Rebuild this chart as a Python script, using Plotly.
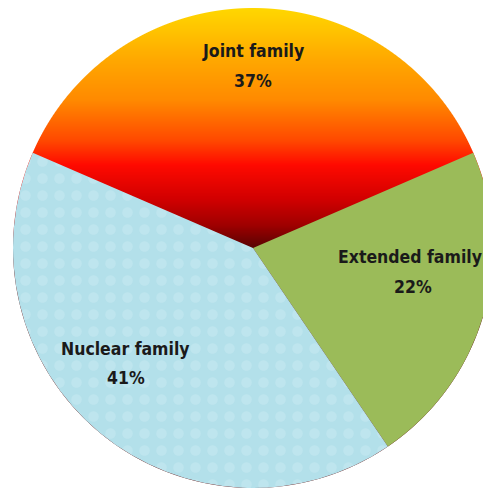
import base64
import struct
import zlib

import numpy as np
import plotly.graph_objects as go

# Family structure shares (percent)
labels = ["Joint family", "Extended family", "Nuclear family"]
shares = [37, 22, 41]
slice_colors = ["rgba(0,0,0,0)", "#9bbb59", "#b3e0ea"]

# Fire gradient used for the "Joint family" slice (fraction of radius from top -> colour)
fire_stops = [0.0, 0.217, 0.383, 0.55, 0.654, 0.8, 0.904, 1.0]
fire_colors = ["#ffd800", "#ffa800", "#ff8a00", "#ff4a00", "#ff0a00", "#d00000", "#a00000", "#580404"]

W, H = 506, 490
R = 240          # pie radius in px
CX, CY = 253, 248  # pie centre in px (from top-left)


def hex_rgb(h):
    h = h.lstrip("#")
    return [int(h[i:i + 2], 16) for i in (0, 2, 4)]


def png_uri(rgba):
    h, w, _ = rgba.shape
    raw = b"".join(b"\x00" + rgba[y].tobytes() for y in range(h))

    def chunk(tag, data):
        body = tag + data
        return struct.pack(">I", len(data)) + body + struct.pack(">I", zlib.crc32(body) & 0xFFFFFFFF)

    png = (b"\x89PNG\r\n\x1a\n"
           + chunk(b"IHDR", struct.pack(">IIBBBBB", w, h, 8, 6, 0, 0, 0))
           + chunk(b"IDAT", zlib.compress(raw, 9))
           + chunk(b"IEND", b""))
    return "data:image/png;base64," + base64.b64encode(png).decode()


# Disc-shaped gradient texture that shows through the transparent slice
n = 2 * R
yy, xx = np.mgrid[0:n, 0:n] + 0.5
t = np.clip(yy / R, 0, 1)
rgb = np.array([hex_rgb(c) for c in fire_colors], dtype=float)
img = np.zeros((n, n, 4), dtype=np.uint8)
for k in range(3):
    img[..., k] = np.interp(t, fire_stops, rgb[:, k]).astype(np.uint8)
dist = np.hypot(xx - R, yy - R)
img[..., 3] = (np.clip(R - dist + 0.5, 0, 1) * 255).astype(np.uint8)
fire_uri = png_uri(img)

fig = go.Figure(
    go.Pie(
        labels=labels,
        values=shares,
        sort=False,
        direction="clockwise",
        rotation=-shares[0] * 3.6 / 2,
        textinfo="none",
        hoverinfo="label+percent",
        domain=dict(x=[0, 1], y=[(H - CY - R) / H, (H - CY + R) / H]),
        marker=dict(
            colors=slice_colors,
            line=dict(width=0),
            pattern=dict(
                shape=["", "", "."],
                fillmode="overlay",
                fgcolor="rgba(225,245,250,0.45)",
                size=17,
                solidity=0.3,
            ),
        ),
        showlegend=False,
    )
)

fig.add_layout_image(
    source=fire_uri,
    xref="paper", yref="paper",
    x=(CX - R) / W, y=(H - CY + R) / H,
    sizex=2 * R / W, sizey=2 * R / H,
    xanchor="left", yanchor="top",
    sizing="stretch", layer="below",
)

# Slice labels: name line and percentage line
label_font = dict(
    family="DejaVu Sans Condensed, Liberation Sans Narrow, Roboto Condensed, Liberation Sans, sans-serif",
    size=17.5, color="#1a1a1a", weight="bold",
)
name_pos = [(253, 51), (410, 257), (125, 349)]
pct_pos = [(253, 81), (413, 287), (126, 378)]
for (nx, ny), (qx, qy), name, val in zip(name_pos, pct_pos, labels, shares):
    for (px, py), txt in (((nx, ny), name), ((qx, qy), f"{val}%")):
        fig.add_annotation(
            x=px / W, y=1 - py / H, xref="paper", yref="paper",
            xanchor="center", yanchor="middle",
            text=txt, showarrow=False, font=label_font,
        )

fig.update_layout(
    width=W, height=H, autosize=False,
    margin=dict(l=0, r=0, t=0, b=0),
    paper_bgcolor="white",
    plot_bgcolor="white",
)

fig.write_html(
    "out.html",
    post_script="document.documentElement.style.overflow='hidden';document.body.style.overflow='hidden';document.body.style.margin='0';",
)
